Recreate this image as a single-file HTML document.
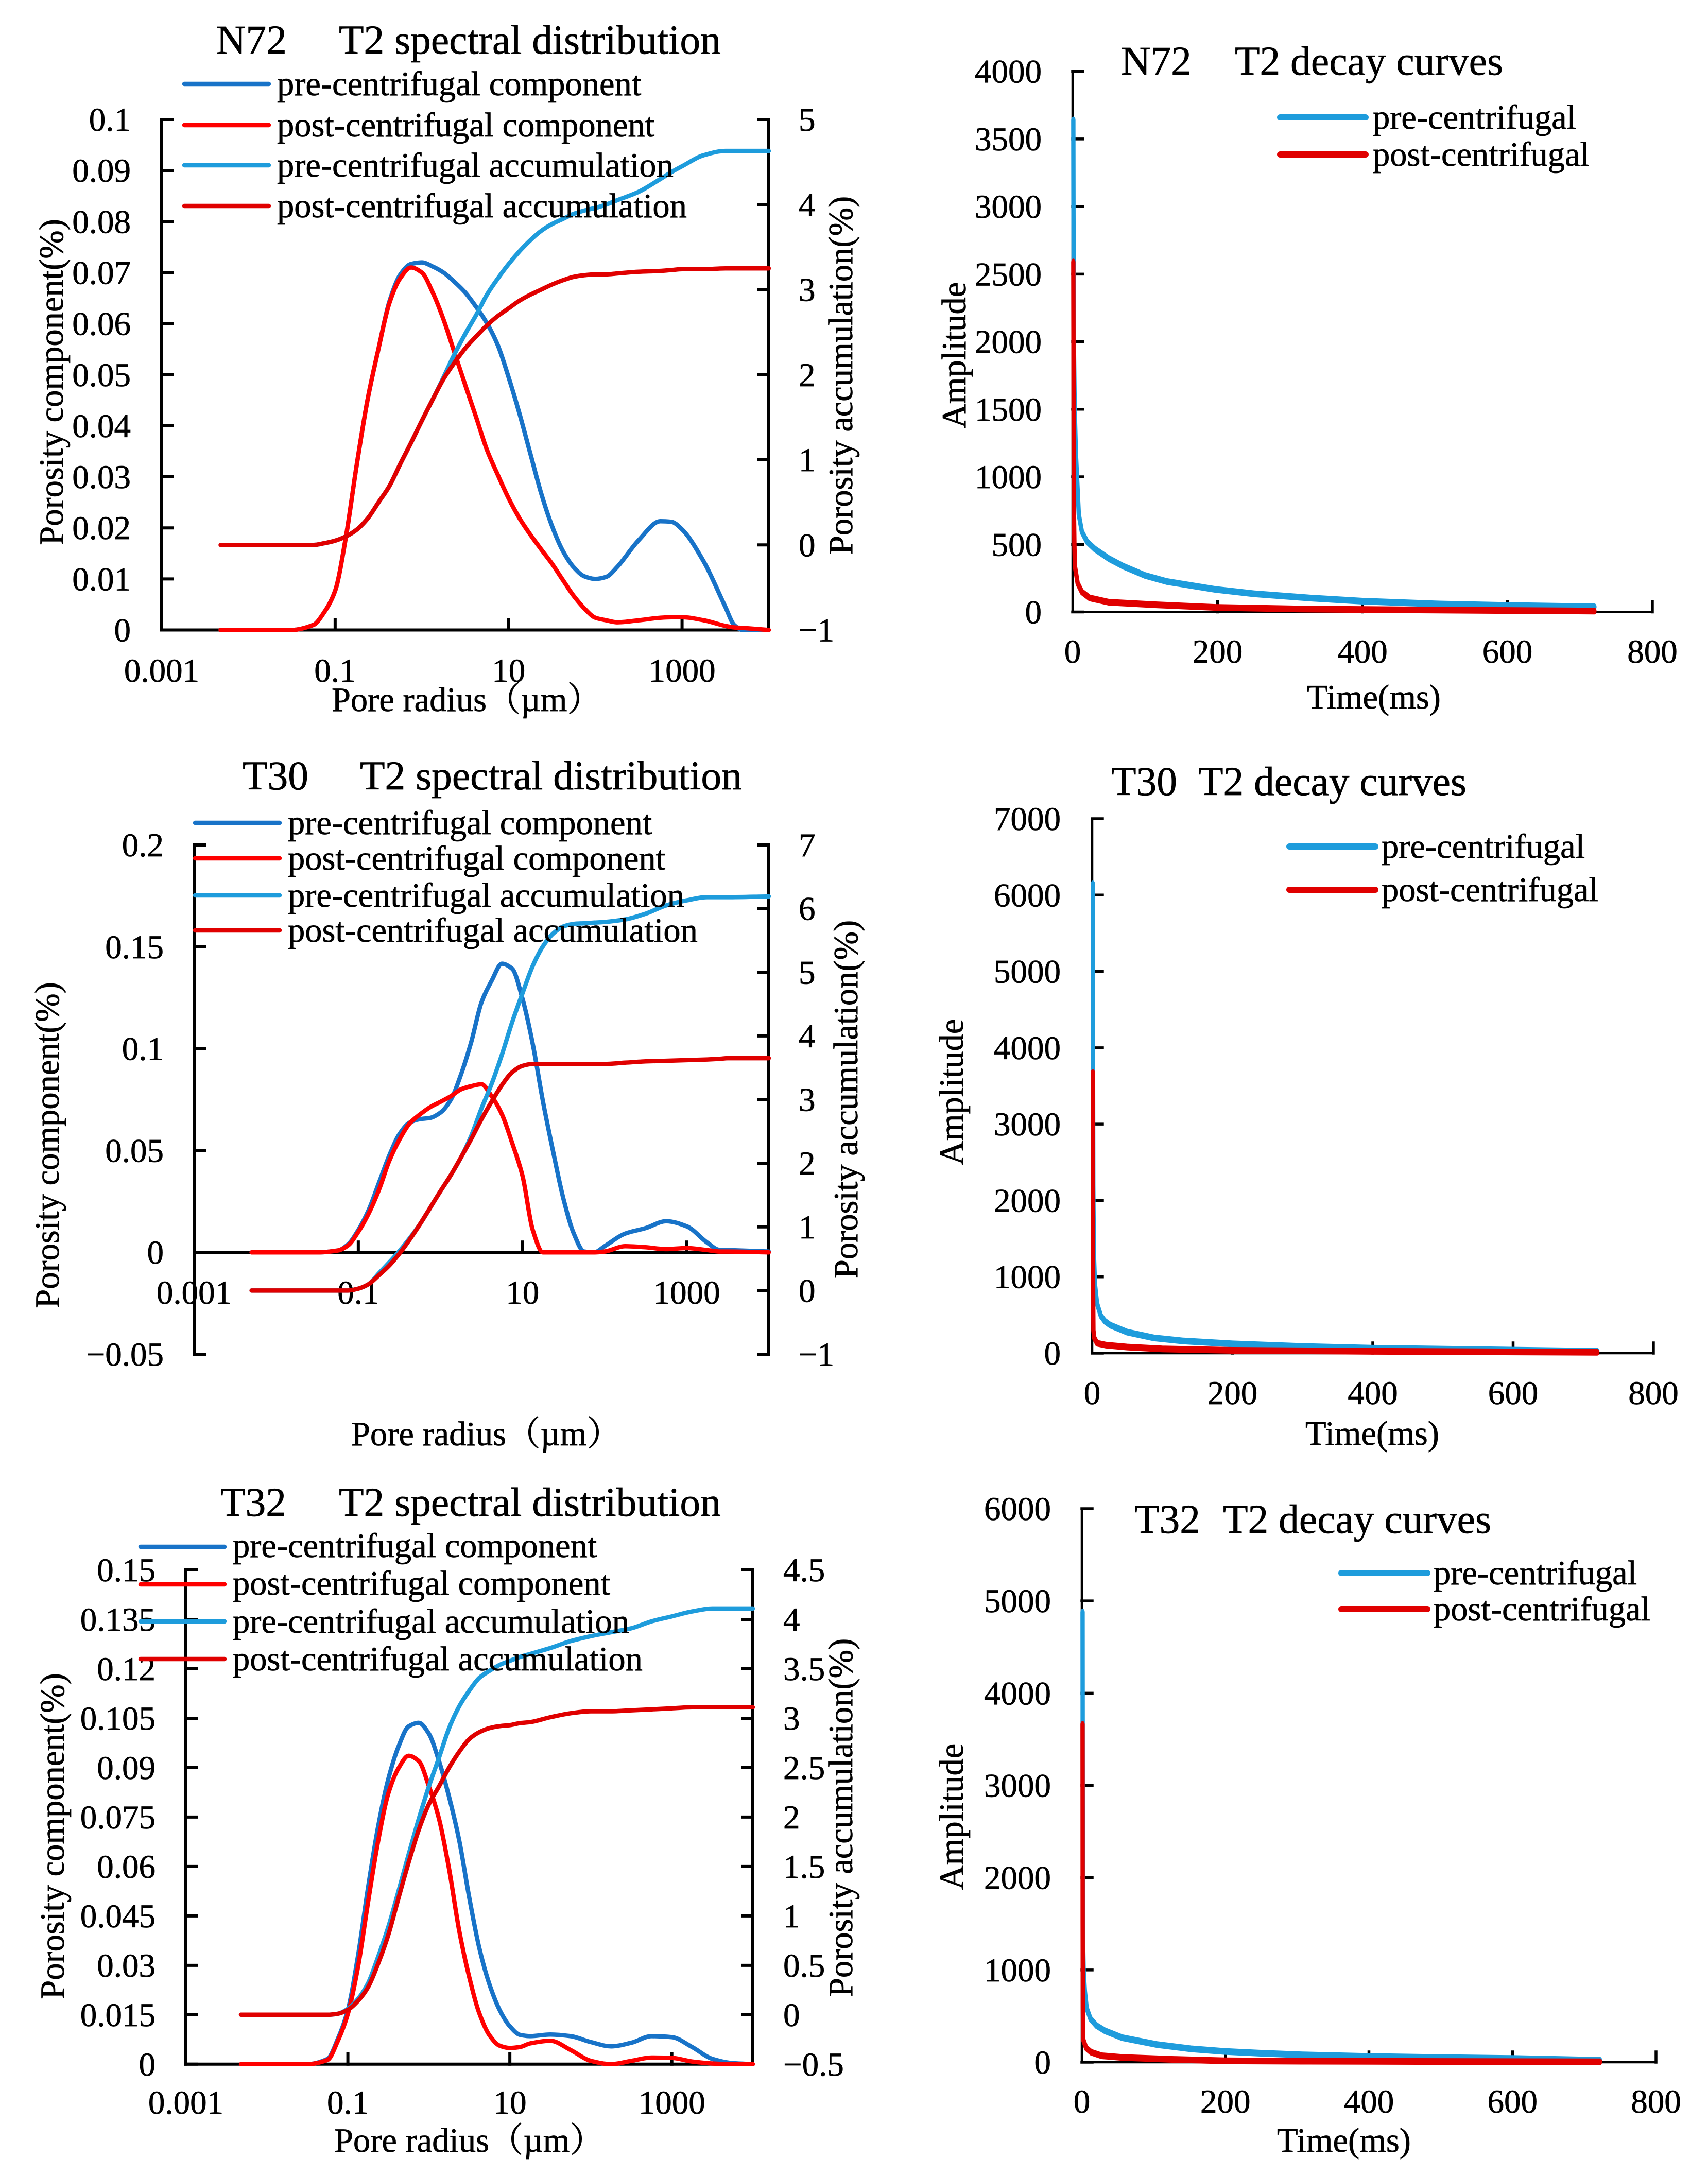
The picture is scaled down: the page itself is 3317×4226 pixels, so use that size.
<!DOCTYPE html>
<html lang="en">
<head>
<meta charset="utf-8">
<title>T2 spectral distribution and decay curves</title>
<style>
html,body{margin:0;padding:0;background:#fff;}
#figure{display:block;width:3317px;height:4226px;background:#fff;}
text{font-family:"Liberation Serif","Noto Serif CJK SC",serif;fill:#000;stroke:#000;stroke-width:.7px;}
.tick{font-size:65px;}
.leg{font-size:66.5px;}
.ttl{font-size:79.5px;}
.axt{font-size:66.5px;}
</style>
</head>
<body>
<svg id="figure" xmlns="http://www.w3.org/2000/svg" width="3317" height="4226" viewBox="0 0 3317 4226">

<!-- N72 spectral -->
<g id="s1">
  <text class="ttl" y="104"><tspan x="420">N72</tspan><tspan x="658">T2 spectral distribution</tspan></text>
  <text class="axt" x="906" y="1381" text-anchor="middle">Pore radius（µm）</text>
  <text class="axt" transform="translate(122,742) rotate(-90)" text-anchor="middle">Porosity component(%)</text>
  <text class="axt" transform="translate(1655,729) rotate(-90)" text-anchor="middle">Porosity accumulation(%)</text>
</g>
<g id="s1leg">
  <line x1="358" x2="522" y1="163" y2="163" stroke="#1873c8" stroke-width="8.5" stroke-linecap="round"/>
  <text class="leg" x="538" y="185">pre-centrifugal component</text>
  <line x1="358" x2="522" y1="243" y2="243" stroke="#ff0000" stroke-width="8.5" stroke-linecap="round"/>
  <text class="leg" x="538" y="265">post-centrifugal component</text>
  <line x1="358" x2="522" y1="321" y2="321" stroke="#1e9cdc" stroke-width="8.5" stroke-linecap="round"/>
  <text class="leg" x="538" y="343">pre-centrifugal accumulation</text>
  <line x1="358" x2="522" y1="400" y2="400" stroke="#e00000" stroke-width="8.5" stroke-linecap="round"/>
  <text class="leg" x="538" y="422">post-centrifugal accumulation</text>
</g>

<!-- N72 decay -->
<g id="d1">
  <text class="ttl" y="145"><tspan x="2177">N72</tspan><tspan x="2398">T2 decay curves</tspan></text>
  <text class="axt" x="2668" y="1376" text-anchor="middle">Time(ms)</text>
  <text class="axt" transform="translate(1875,690) rotate(-90)" text-anchor="middle">Amplitude</text>
</g>
<g id="d1leg">
  <line x1="2486" x2="2652" y1="228" y2="228" stroke="#1e9cdc" stroke-width="12" stroke-linecap="round"/>
  <text class="leg" x="2666" y="250">pre-centrifugal</text>
  <line x1="2486" x2="2652" y1="300" y2="300" stroke="#e00000" stroke-width="12" stroke-linecap="round"/>
  <text class="leg" x="2666" y="322">post-centrifugal</text>
</g>

<!-- T30 spectral -->
<g id="s2">
  <text class="ttl" y="1533"><tspan x="471">T30</tspan><tspan x="699">T2 spectral distribution</tspan></text>
  <text class="axt" x="944" y="2807" text-anchor="middle">Pore radius（µm）</text>
  <text class="axt" transform="translate(114,2224) rotate(-90)" text-anchor="middle">Porosity component(%)</text>
  <text class="axt" transform="translate(1665,2135) rotate(-90)" text-anchor="middle">Porosity accumulation(%)</text>
</g>
<g id="s2leg">
  <line x1="379" x2="543" y1="1598" y2="1598" stroke="#1873c8" stroke-width="8.5" stroke-linecap="round"/>
  <text class="leg" x="559" y="1620">pre-centrifugal component</text>
  <line x1="379" x2="543" y1="1667" y2="1667" stroke="#ff0000" stroke-width="8.5" stroke-linecap="round"/>
  <text class="leg" x="559" y="1689">post-centrifugal component</text>
  <line x1="379" x2="543" y1="1739" y2="1739" stroke="#1e9cdc" stroke-width="8.5" stroke-linecap="round"/>
  <text class="leg" x="559" y="1761">pre-centrifugal accumulation</text>
  <line x1="379" x2="543" y1="1807" y2="1807" stroke="#e00000" stroke-width="8.5" stroke-linecap="round"/>
  <text class="leg" x="559" y="1829">post-centrifugal accumulation</text>
</g>

<!-- T30 decay -->
<g id="d2">
  <text class="ttl" y="1544"><tspan x="2158">T30</tspan><tspan x="2327">T2 decay curves</tspan></text>
  <text class="axt" x="2665" y="2806" text-anchor="middle">Time(ms)</text>
  <text class="axt" transform="translate(1870,2121) rotate(-90)" text-anchor="middle">Amplitude</text>
</g>
<g id="d2leg">
  <line x1="2504" x2="2671" y1="1644" y2="1644" stroke="#1e9cdc" stroke-width="12" stroke-linecap="round"/>
  <text class="leg" x="2683" y="1666">pre-centrifugal</text>
  <line x1="2504" x2="2671" y1="1728" y2="1728" stroke="#e00000" stroke-width="12" stroke-linecap="round"/>
  <text class="leg" x="2683" y="1750">post-centrifugal</text>
</g>

<!-- T32 spectral -->
<g id="s3">
  <text class="ttl" y="2944"><tspan x="428">T32</tspan><tspan x="658">T2 spectral distribution</tspan></text>
  <text class="axt" x="911" y="4179" text-anchor="middle">Pore radius（µm）</text>
  <text class="axt" transform="translate(124,3566) rotate(-90)" text-anchor="middle">Porosity component(%)</text>
  <text class="axt" transform="translate(1655,3530) rotate(-90)" text-anchor="middle">Porosity accumulation(%)</text>
</g>
<g id="s3leg">
  <line x1="273" x2="436" y1="3004" y2="3004" stroke="#1873c8" stroke-width="8.5" stroke-linecap="round"/>
  <text class="leg" x="452" y="3024">pre-centrifugal component</text>
  <line x1="273" x2="436" y1="3077" y2="3077" stroke="#ff0000" stroke-width="8.5" stroke-linecap="round"/>
  <text class="leg" x="452" y="3097">post-centrifugal component</text>
  <line x1="273" x2="436" y1="3149" y2="3149" stroke="#1e9cdc" stroke-width="8.5" stroke-linecap="round"/>
  <text class="leg" x="452" y="3171">pre-centrifugal accumulation</text>
  <line x1="273" x2="436" y1="3222" y2="3222" stroke="#e00000" stroke-width="8.5" stroke-linecap="round"/>
  <text class="leg" x="452" y="3244">post-centrifugal accumulation</text>
</g>

<!-- T32 decay -->
<g id="d3">
  <text class="ttl" y="2977"><tspan x="2203">T32</tspan><tspan x="2375">T2 decay curves</tspan></text>
  <text class="axt" x="2610" y="4179" text-anchor="middle">Time(ms)</text>
  <text class="axt" transform="translate(1870,3528) rotate(-90)" text-anchor="middle">Amplitude</text>
</g>
<g id="d3leg">
  <line x1="2605" x2="2772" y1="3055" y2="3055" stroke="#1e9cdc" stroke-width="12" stroke-linecap="round"/>
  <text class="leg" x="2784" y="3077">pre-centrifugal</text>
  <line x1="2605" x2="2772" y1="3125" y2="3125" stroke="#e00000" stroke-width="12" stroke-linecap="round"/>
  <text class="leg" x="2784" y="3147">post-centrifugal</text>
</g>
</svg>

<script>
/* ---- shared tick labels ---- */
const radiusTickLabels = ["0.001","0.1","10","1000"];
const timeTickLabels = ["0","200","400","600","800"];

/* ---- N72 spectral data (x = log10 of pore radius in um) ---- */
const n72LogRadius = [-2.32,-2,-1.5,-1.25,-1.125,-1,-0.875,-0.75,-0.625,-0.5,-0.375,-0.25,-0.125,0,0.125,0.25,0.375,0.5,0.625,0.75,0.875,1,1.125,1.25,1.375,1.5,1.625,1.75,1.875,2,2.125,2.25,2.5,2.75,2.875,3,3.25,3.5,3.6,3.7,4];
const n72PreComponent = [0,0,0,.001,.0035,.0077,.0183,.0325,.0452,.0551,.0643,.0696,.0717,.072,.0712,.07,.0682,.0661,.0633,.0601,.0558,.0495,.0424,.0346,.0268,.0204,.0155,.0123,.0105,.01,.0104,.0123,.0176,.0213,.0212,.0197,.0134,.0045,.001,0,0];
const n72PostComponent = [0,0,0,.001,.0035,.0077,.0183,.0325,.0452,.0551,.064,.0689,.071,.07,.0661,.0608,.0544,.048,.0417,.0353,.0304,.0258,.0219,.0187,.0158,.013,.0098,.0067,.0042,.0024,.0019,.0015,.0019,.0024,.0025,.0025,.0019,.0008,.0005,.0004,0];
const n72PreAccumulation = [0,0,0,0,.02,.05,.1,.18,.31,.5,.69,.95,1.2,1.46,1.71,1.97,2.24,2.48,2.7,2.94,3.13,3.3,3.45,3.58,3.69,3.77,3.83,3.89,3.93,3.96,4,4.05,4.15,4.3,4.38,4.45,4.58,4.63,4.63,4.63,4.63];
const n72PostAccumulation = [0,0,0,0,.02,.05,.1,.18,.31,.5,.69,.95,1.2,1.46,1.71,1.95,2.14,2.31,2.45,2.58,2.69,2.78,2.87,2.94,3,3.06,3.11,3.15,3.17,3.18,3.18,3.19,3.21,3.22,3.23,3.24,3.24,3.25,3.25,3.25,3.25];
const n72LeftTicks = ["0","0.01","0.02","0.03","0.04","0.05","0.06","0.07","0.08","0.09","0.1"];
const n72RightTicks = ["−1","0","1","2","3","4","5"];

/* ---- T30 spectral data ---- */
const t30LogRadius = [-2.3,-1.5,-1.25,-1.125,-1,-0.875,-0.75,-0.625,-0.5,-0.375,-0.25,-0.125,0,0.125,0.25,0.375,0.5,0.625,0.75,0.875,1,1.125,1.25,1.375,1.5,1.625,1.75,1.875,2,2.25,2.5,2.75,3,3.25,3.4,3.5,4];
const t30PreComponent = [0,0,.0009,.0039,.011,.0207,.034,.0473,.058,.0637,.0654,.066,.0686,.0748,.0872,.1032,.1227,.1334,.1417,.1392,.1245,.1023,.0739,.0491,.0261,.0092,.0004,0,.003,.0092,.0119,.0153,.0128,.0048,.0012,.0011,.0004];
const t30PostComponent = [0,0,.0009,.0034,.0101,.019,.0305,.0447,.0553,.0633,.0677,.0713,.0739,.0766,.08,.0816,.0825,.0766,.0677,.0536,.0376,.011,0,0,0,0,0,0,.0004,.003,.0025,.0016,.0021,.0011,.0004,.0004,0];
const t30PreAccumulation = [0,0,0,0,.03,.1,.27,.44,.62,.82,1.04,1.3,1.56,1.81,2.09,2.43,2.86,3.25,3.71,4.22,4.67,5.1,5.41,5.61,5.72,5.76,5.77,5.78,5.79,5.83,5.92,6.05,6.13,6.18,6.18,6.18,6.19];
const t30PostAccumulation = [0,0,0,0,.03,.1,.24,.39,.58,.8,1.04,1.3,1.56,1.81,2.09,2.38,2.69,2.97,3.23,3.43,3.53,3.56,3.56,3.56,3.56,3.56,3.56,3.56,3.56,3.58,3.6,3.61,3.62,3.63,3.64,3.65,3.65];
const t30LeftTicks = ["−0.05","0","0.05","0.1","0.15","0.2"];
const t30RightTicks = ["−1","0","1","2","3","4","5","6","7"];

/* ---- T32 spectral data ---- */
const t32LogRadius = [-2.32,-1.5,-1.25,-1.125,-1,-0.875,-0.75,-0.625,-0.5,-0.375,-0.25,-0.125,0,0.125,0.25,0.375,0.5,0.625,0.75,0.875,1,1.125,1.25,1.5,1.75,2,2.25,2.5,2.75,3,3.25,3.5,3.75,4];
const t32PreComponent = [0,0,.0016,.0076,.0164,.0328,.0537,.0723,.0866,.0964,.1025,.1036,.1003,.092,.0811,.0679,.0504,.035,.0241,.0164,.0115,.0089,.0085,.009,.0085,.0067,.0054,.0065,.0085,.0082,.0052,.0016,.0003,0];
const t32PostComponent = [0,0,.0013,.007,.0153,.0295,.0493,.0679,.0822,.0898,.0936,.092,.0844,.0745,.0592,.0405,.0263,.0153,.0087,.0056,.0049,.0052,.0063,.0071,.0043,.001,0,.001,.002,.0019,.0008,.0002,0,0];
const t32PreAccumulation = [0,0,0,.01,.06,.16,.32,.59,.89,1.25,1.62,1.98,2.31,2.6,2.9,3.12,3.28,3.41,3.48,3.54,3.58,3.62,3.65,3.71,3.78,3.83,3.87,3.91,3.98,4.03,4.08,4.11,4.11,4.11];
const t32PostAccumulation = [0,0,0,.01,.05,.14,.28,.52,.81,1.18,1.54,1.87,2.13,2.31,2.5,2.66,2.79,2.86,2.9,2.92,2.93,2.95,2.96,3.01,3.05,3.07,3.07,3.08,3.09,3.1,3.11,3.11,3.11,3.11];
const t32LeftTicks = ["0","0.015","0.03","0.045","0.06","0.075","0.09","0.105","0.12","0.135","0.15"];
const t32RightTicks = ["−0.5","0","0.5","1","1.5","2","2.5","3","3.5","4","4.5"];

/* ---- decay data ---- */
const n72PreTime = [1,1.2,1.5,2,3,4.6,6.3,8.6,12.9,20,30.7,50,69.7,100,130,197,250,326,400,500,600,720];
const n72PreAmplitude = [3640,3000,2400,1900,1480,1165,974,720,593,520,466,395,339,270,225,167,135,104,80,60,48,38];
const n72PostTime = [1,1.3,1.6,2,2.5,3.2,7,12.9,23.5,50,116,197,315,450,600,720];
const n72PostAmplitude = [2590,1800,1000,700,500,339,212,148,104,72,53,34,22,16,11,7];
const n72AmplitudeTicks = ["0","500","1000","1500","2000","2500","3000","3500","4000"];

const t30PreTime = [1,1.2,1.6,2.5,4,7,12.4,18,26,50,88,130,200,300,400,600,720];
const t30PreAmplitude = [6146,4000,2200,1300,900,650,488,420,366,275,200,160,122,88,65,40,25];
const t30PostTime = [1,1.15,1.4,1.8,3,7,20,50,100,200,400,720];
const t30PostAmplitude = [3674,2000,800,300,200,130,105,80,55,37,24,12];
const t30AmplitudeTicks = ["0","1000","2000","3000","4000","5000","6000","7000"];

const t32PreTime = [1,1.2,1.6,2.5,4.2,6.8,12,20.4,32,56,104,152,198,247,307,400,500,600,722];
const t32PreAmplitude = [4880,3000,1365,992,769,583,471,397,341,266,192,145,117,98,80,62,50,40,20];
const t32PostTime = [1,1.15,1.4,1.8,6,13,27.6,56,128,199,307,500,722];
const t32PostAmplitude = [3662,1500,600,247,154,108,70,52,30,15,11,8,4];
const t32AmplitudeTicks = ["0","1000","2000","3000","4000","5000","6000"];

/* ---- helpers ---- */
const SVGNS = "http://www.w3.org/2000/svg";
function make(tag, attrs, parent){
  const el = document.createElementNS(SVGNS, tag);
  for (const k in attrs) el.setAttribute(k, attrs[k]);
  parent.appendChild(el);
  return el;
}
function smoothPath(pts){
  const n = pts.length, d = [], m = new Array(n);
  for (let i=0;i<n-1;i++) d.push((pts[i+1][1]-pts[i][1])/(pts[i+1][0]-pts[i][0]));
  m[0]=d[0]; m[n-1]=d[n-2];
  for (let i=1;i<n-1;i++) m[i] = d[i-1]*d[i]<=0 ? 0 : 2*d[i-1]*d[i]/(d[i-1]+d[i]);
  let s = "M"+pts[0][0].toFixed(1)+" "+pts[0][1].toFixed(1);
  for (let i=0;i<n-1;i++){
    const h=(pts[i+1][0]-pts[i][0])/3;
    s += "C"+(pts[i][0]+h).toFixed(1)+" "+(pts[i][1]+m[i]*h).toFixed(1)+" "+(pts[i+1][0]-h).toFixed(1)+" "+(pts[i+1][1]-m[i+1]*h).toFixed(1)+" "+pts[i+1][0].toFixed(1)+" "+pts[i+1][1].toFixed(1);
  }
  return s;
}
function line(parent,x1,y1,x2,y2,w){
  const el = make("line",{x1:x1,y1:y1,x2:x2,y2:y2,stroke:"#000","stroke-width":w,"stroke-linecap":"square"},parent);
  return el;
}
function tickText(parent,str,x,y,anchor){
  const el = make("text",{class:"tick",x:x,y:y,"text-anchor":anchor},parent);
  el.textContent = str;
  return el;
}

/* ---- spectral chart ---- */
function drawSpectral(c){
  const root = document.getElementById(c.id);
  const X = lr => c.left + (lr+3)/7*(c.right-c.left);
  const YL = v => c.bottom - (v-c.lMin)/(c.lMax-c.lMin)*(c.bottom-c.top);
  const YR = v => c.bottom - (v-c.rMin)/(c.rMax-c.rMin)*(c.bottom-c.top);
  const xAxisY = YL(0);
  const lw = 6, tl = 20;

  const leftAxis = line(root,c.left,c.top,c.left,c.bottom,lw);
  
  
  const rightAxis = line(root,c.right,c.top,c.right,c.bottom,lw);
  
  
  const xAxis = line(root,c.left,xAxisY,c.right,xAxisY,lw);
  
  

  c.leftTicks.forEach((t,i)=>{
    const v = c.lMin + i*(c.lMax-c.lMin)/(c.leftTicks.length-1);
    const y = YL(v);
    const mark = line(root,c.left,y,c.left+tl,y,lw);
    
    
    const lab = tickText(root,t,c.leftLabelX,y+22,"end");
    
    
  });
  c.rightTicks.forEach((t,i)=>{
    const v = c.rMin + i*(c.rMax-c.rMin)/(c.rightTicks.length-1);
    const y = YR(v);
    const mark = line(root,c.right-tl,y,c.right,y,lw);
    
    
    const lab = tickText(root,t,c.rightLabelX,y+22,"start");
    
    
  });
  radiusTickLabels.forEach((t,i)=>{
    const x = X(-3+2*i);
    if (i>0){
      const mark = line(root,x,xAxisY-tl,x,xAxisY,lw);
      
      
    }
    const lab = tickText(root,t,x,c.xLabelY,"middle");
    
    
  });

  c.series.forEach(s=>{
    const scale = s.axis==="left" ? YL : YR;
    const pts = c.logRadius.map((lr,i)=>[X(lr),scale(s.values[i])]);
    const p = make("path",{d:smoothPath(pts),fill:"none",stroke:s.color,"stroke-width":8.5,"stroke-linejoin":"round","stroke-linecap":"round"},root);
    
    
  });
  root.appendChild(document.getElementById(c.id+"leg"));
}

/* ---- decay chart ---- */
const penSquash = 0.65; /* pen is narrower horizontally, as in the reference */
function drawDecay(c){
  const root = document.getElementById(c.id);
  const X = t => c.left + t/800*(c.right-c.left);
  const Y = v => c.bottom - v/c.yMax*(c.bottom-c.top);
  const lw = 4.5, tkw = 5.5, tl = 20;

  const yAxis = line(root,c.left,c.top,c.left,c.bottom,lw);
  
  
  const xAxis = line(root,c.left,c.bottom,c.right,c.bottom,lw);
  
  

  c.yTicks.forEach((t,i)=>{
    const y = Y(i*c.yMax/(c.yTicks.length-1));
    const mark = line(root,c.left,y,c.left+tl,y,tkw);
    
    
    const lab = tickText(root,t,c.yLabelX,y+22,"end");
    
    
  });
  timeTickLabels.forEach(t=>{
    const x = X(Number(t));
    if (Number(t)>0){
      const mark = line(root,x,c.bottom-tl,x,c.bottom,tkw);
      
      
    }
    const lab = tickText(root,t,x,c.xLabelY,"middle");
    
    
  });
  c.series.forEach(s=>{
    const pts = s.time.map((t,i)=>(X(t)/penSquash).toFixed(1)+","+Y(s.values[i]).toFixed(1)).join(" ");
    const p = make("polyline",{points:pts,transform:"scale("+penSquash+",1)",fill:"none",stroke:s.color,"stroke-width":13,"stroke-linejoin":"round","stroke-linecap":"round"},root);
    
    
  });
  root.appendChild(document.getElementById(c.id+"leg"));
}

const BLUE="#1873c8", RED="#ff0000", SKY="#1e9cdc", DARKRED="#e00000";

drawSpectral({id:"s1",left:314,right:1493,top:232,bottom:1223.5,lMin:0,lMax:0.1,rMin:-1,rMax:5,
  leftLabelX:254,rightLabelX:1551,xLabelY:1324,logRadius:n72LogRadius,leftTicks:n72LeftTicks,rightTicks:n72RightTicks,
  series:[
    {name:"pre-component-line",axis:"left",values:n72PreComponent,color:BLUE},
    {name:"post-component-line",axis:"left",values:n72PostComponent,color:RED},
    {name:"pre-accumulation-line",axis:"right",values:n72PreAccumulation,color:SKY},
    {name:"post-accumulation-line",axis:"right",values:n72PostAccumulation,color:DARKRED}
  ]});
drawSpectral({id:"s2",left:377,right:1493,top:1641,bottom:2630,lMin:-0.05,lMax:0.2,rMin:-1,rMax:7,
  leftLabelX:318,rightLabelX:1551,xLabelY:2532,logRadius:t30LogRadius,leftTicks:t30LeftTicks,rightTicks:t30RightTicks,
  series:[
    {name:"pre-component-line",axis:"left",values:t30PreComponent,color:BLUE},
    {name:"post-component-line",axis:"left",values:t30PostComponent,color:RED},
    {name:"pre-accumulation-line",axis:"right",values:t30PreAccumulation,color:SKY},
    {name:"post-accumulation-line",axis:"right",values:t30PostAccumulation,color:DARKRED}
  ]});
drawSpectral({id:"s3",left:361,right:1462,top:3049,bottom:4008.8,lMin:0,lMax:0.15,rMin:-0.5,rMax:4.5,
  leftLabelX:302,rightLabelX:1521,xLabelY:4105,logRadius:t32LogRadius,leftTicks:t32LeftTicks,rightTicks:t32RightTicks,
  series:[
    {name:"pre-component-line",axis:"left",values:t32PreComponent,color:BLUE},
    {name:"post-component-line",axis:"left",values:t32PostComponent,color:RED},
    {name:"pre-accumulation-line",axis:"right",values:t32PreAccumulation,color:SKY},
    {name:"post-accumulation-line",axis:"right",values:t32PostAccumulation,color:DARKRED}
  ]});

drawDecay({id:"d1",left:2083,right:3209,top:138.6,bottom:1188.5,yMax:4000,yLabelX:2023,xLabelY:1287,yTicks:n72AmplitudeTicks,
  series:[
    {name:"pre-centrifugal-decay-line",time:n72PreTime,values:n72PreAmplitude,color:SKY},
    {name:"post-centrifugal-decay-line",time:n72PostTime,values:n72PostAmplitude,color:DARKRED}
  ]});
drawDecay({id:"d2",left:2121,right:3211,top:1590,bottom:2628,yMax:7000,yLabelX:2060,xLabelY:2727,yTicks:t30AmplitudeTicks,
  series:[
    {name:"pre-centrifugal-decay-line",time:t30PreTime,values:t30PreAmplitude,color:SKY},
    {name:"post-centrifugal-decay-line",time:t30PostTime,values:t30PostAmplitude,color:DARKRED}
  ]});
drawDecay({id:"d3",left:2101,right:3216,top:2930,bottom:4005,yMax:6000,yLabelX:2041,xLabelY:4103,yTicks:t32AmplitudeTicks,
  series:[
    {name:"pre-centrifugal-decay-line",time:t32PreTime,values:t32PreAmplitude,color:SKY},
    {name:"post-centrifugal-decay-line",time:t32PostTime,values:t32PostAmplitude,color:DARKRED}
  ]});
</script>
</body>
</html>
